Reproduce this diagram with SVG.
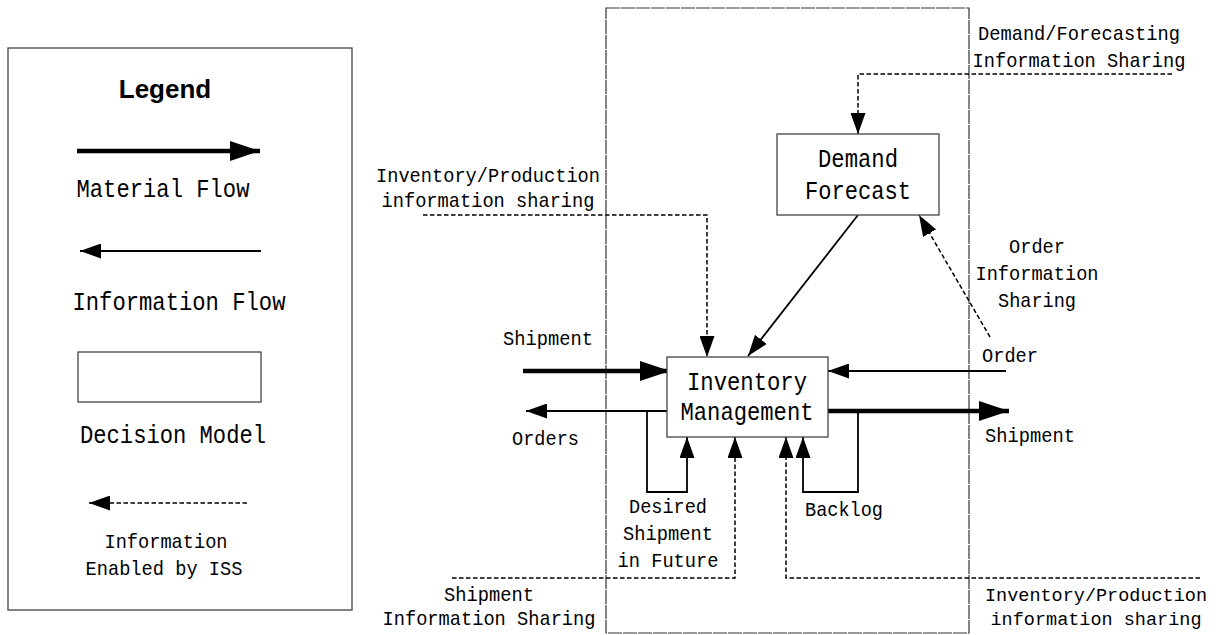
<svg xmlns="http://www.w3.org/2000/svg" width="1227" height="635" viewBox="0 0 1227 635">
<style>
.t{font-family:"Liberation Mono",monospace;fill:#000}
.L{font-size:25px}
.S{font-size:21px}
.m{text-anchor:middle}
.box{fill:#fff;stroke:#444;stroke-width:1.3}
.thick{stroke:#000;stroke-width:4.5;fill:none}
.thin{stroke:#000;stroke-width:1.8;fill:none}
.dash{stroke:#000;stroke-width:1.5;fill:none;stroke-dasharray:4.5,2.5}
</style>
<defs>
<marker id="big" markerUnits="userSpaceOnUse" markerWidth="30" markerHeight="20" refX="30" refY="10" orient="auto"><path d="M0,0 L30,10 L0,20 z" fill="#000"/></marker>
<marker id="small" markerUnits="userSpaceOnUse" markerWidth="21" markerHeight="15" refX="21" refY="7.5" orient="auto"><path d="M0,0 L21,7.5 L0,15 z" fill="#000"/></marker>
</defs>
<rect width="1227" height="635" fill="#fff"/>
<g id="legend">
<rect x="8" y="48" width="344" height="562" fill="none" stroke="#444" stroke-width="1.3"/>
<text x="165" y="98" style="font-family:'Liberation Sans',Arial,sans-serif;font-weight:bold;font-size:26px" text-anchor="middle">Legend</text>
<line class="thick" x1="77" y1="151" x2="260" y2="151" marker-end="url(#big)"/>
<text class="t L m" x="163" y="197" textLength="173" lengthAdjust="spacingAndGlyphs">Material Flow</text>
<line class="thin" x1="261" y1="251" x2="80" y2="251" marker-end="url(#small)"/>
<text class="t L m" x="179" y="310" textLength="213" lengthAdjust="spacingAndGlyphs">Information Flow</text>
<rect class="box" x="78" y="352" width="183" height="50"/>
<text class="t L m" x="173" y="443" textLength="186" lengthAdjust="spacingAndGlyphs">Decision Model</text>
<line class="dash" x1="247" y1="503" x2="89" y2="503" marker-end="url(#small)"/>
<text class="t S m" x="166" y="548" textLength="123" lengthAdjust="spacingAndGlyphs">Information</text>
<text class="t S m" x="164" y="575" textLength="157" lengthAdjust="spacingAndGlyphs">Enabled by ISS</text>
</g>
<g id="frame">
<rect x="606" y="8" width="363" height="625" fill="none" stroke="#333" stroke-width="1.2" stroke-dasharray="14,1"/>
</g>
<g id="connectors">
<line class="thick" x1="523" y1="371" x2="670" y2="371" marker-end="url(#big)"/>
<line class="thin" x1="667" y1="411" x2="526" y2="411" marker-end="url(#small)"/>
<polyline class="thin" points="647,411 647,492 687,492 687,437" marker-end="url(#small)"/>
<line class="thick" x1="828" y1="411" x2="1009" y2="411" marker-end="url(#big)"/>
<polyline class="thin" points="858,411 858,492 803,492 803,437" marker-end="url(#small)"/>
<line class="thin" x1="1006" y1="371" x2="828" y2="371" marker-end="url(#small)"/>
<line class="thin" x1="858" y1="215" x2="748" y2="356" marker-end="url(#small)"/>
<polyline class="dash" points="1172,74 858,74 858,134" marker-end="url(#small)"/>
<line class="dash" x1="990" y1="337" x2="919" y2="215" marker-end="url(#small)"/>
<polyline class="dash" points="423,215 707,215 707,357" marker-end="url(#small)"/>
<polyline class="dash" points="452,578 735,578 735,437" marker-end="url(#small)"/>
<polyline class="dash" points="1200,578 786,578 786,437" marker-end="url(#small)"/>
</g>
<g id="demand-forecast">
<rect class="box" x="777" y="134" width="162" height="81"/>
<text class="t L m" x="858" y="167" textLength="80" lengthAdjust="spacingAndGlyphs">Demand</text>
<text class="t L m" x="858" y="199" textLength="106" lengthAdjust="spacingAndGlyphs">Forecast</text>
</g>
<g id="inventory-management">
<rect class="box" x="667" y="357" width="161" height="80"/>
<text class="t L m" x="747" y="390" textLength="120" lengthAdjust="spacingAndGlyphs">Inventory</text>
<text class="t L m" x="747" y="420" textLength="133" lengthAdjust="spacingAndGlyphs">Management</text>
</g>
<g id="labels">
<text class="t S m" x="488" y="182" textLength="224" lengthAdjust="spacingAndGlyphs">Inventory/Production</text>
<text class="t S m" x="488" y="207" textLength="213" lengthAdjust="spacingAndGlyphs">information sharing</text>
<text class="t S m" x="1079" y="40" textLength="202" lengthAdjust="spacingAndGlyphs">Demand/Forecasting</text>
<text class="t S m" x="1079" y="67" textLength="213" lengthAdjust="spacingAndGlyphs">Information Sharing</text>
<text class="t S m" x="1037" y="253" textLength="56" lengthAdjust="spacingAndGlyphs">Order</text>
<text class="t S m" x="1037" y="280" textLength="123" lengthAdjust="spacingAndGlyphs">Information</text>
<text class="t S m" x="1037" y="307" textLength="78" lengthAdjust="spacingAndGlyphs">Sharing</text>
<text class="t S" x="982" y="362" textLength="56" lengthAdjust="spacingAndGlyphs">Order</text>
<text class="t S" x="985" y="442" textLength="90" lengthAdjust="spacingAndGlyphs">Shipment</text>
<text class="t S" x="805" y="516" textLength="78" lengthAdjust="spacingAndGlyphs">Backlog</text>
<text class="t S m" x="1096" y="601" style="font-size:19px" textLength="222" lengthAdjust="spacingAndGlyphs">Inventory/Production</text>
<text class="t S m" x="1096" y="625" style="font-size:19px" textLength="211" lengthAdjust="spacingAndGlyphs">information sharing</text>
<text class="t S m" x="489" y="601" textLength="90" lengthAdjust="spacingAndGlyphs">Shipment</text>
<text class="t S m" x="489" y="625" textLength="213" lengthAdjust="spacingAndGlyphs">Information Sharing</text>
<text class="t S m" x="668" y="513" textLength="78" lengthAdjust="spacingAndGlyphs">Desired</text>
<text class="t S m" x="668" y="540" textLength="90" lengthAdjust="spacingAndGlyphs">Shipment</text>
<text class="t S m" x="668" y="567" textLength="101" lengthAdjust="spacingAndGlyphs">in Future</text>
<text class="t S" x="512" y="445" textLength="67" lengthAdjust="spacingAndGlyphs">Orders</text>
<text class="t S" x="503" y="345" textLength="90" lengthAdjust="spacingAndGlyphs">Shipment</text>
</g>
</svg>
